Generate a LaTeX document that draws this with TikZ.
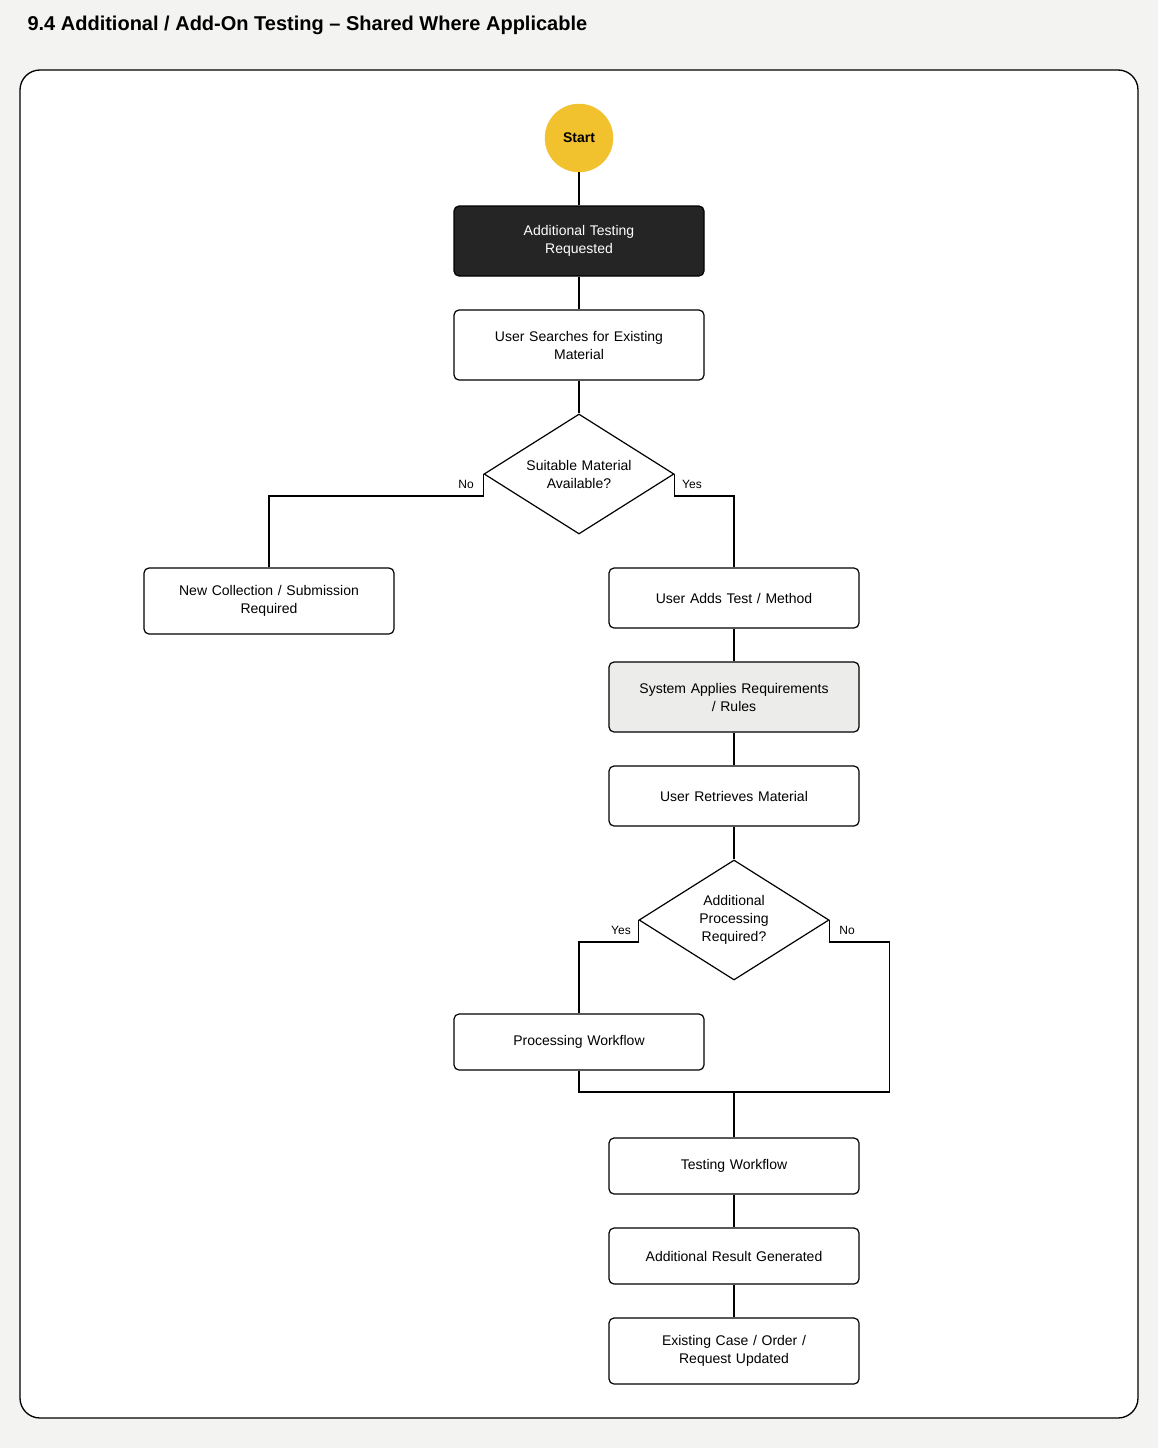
\documentclass[tikz,border=0pt]{standalone}
\usepackage{fontspec}
\setmainfont{Liberation Sans}
\usetikzlibrary{positioning,shapes.geometric}
\definecolor{pagebg}{HTML}{F3F3F2}
\definecolor{darkbox}{HTML}{252525}
\definecolor{rulebox}{HTML}{ECECEB}
\definecolor{startyel}{HTML}{F2C12E}
\tikzset{
  box/.style={draw,rounded corners=5pt,line width=1.2pt,fill=white,minimum width=250pt,text width=220pt,align=center,font=\fontsize{14}{18}\selectfont},
  dec/.style={draw,diamond,line width=1.2pt,fill=white,minimum width=190pt,minimum height=120pt,inner sep=0pt,aspect=1.58,text width=110pt,align=center,font=\fontsize{14}{18}\selectfont},
  lab/.style={font=\fontsize{12}{14}\selectfont},
  link/.style={line width=1.2pt}
}
\begin{document}
\begin{tikzpicture}[x=1pt,y=-1pt]
\fill[pagebg] (0,0) rectangle (1158,1448);
\useasboundingbox (0,0) rectangle (1158,1448);
\node[anchor=west,font=\bfseries\fontsize{20}{24}\selectfont] (title) at (24,25) {9.4 Additional / Add-On Testing -- Shared Where Applicable};
\draw[line width=1.3pt,rounded corners=20pt,fill=white] (20,70) rectangle (1138,1418);
\node[draw,circle,fill=startyel,draw=startyel,minimum size=68pt,font=\bfseries\fontsize{14}{18}\selectfont] (start) at (579,138) {Start};
\node[box,fill=darkbox,text=white,minimum height=70pt] (req) at (579,241) {Additional Testing\\Requested};
\node[box,minimum height=70pt] (search) at (579,345) {User Searches for Existing\\Material};
\node[dec] (avail) at (579,474) {Suitable Material\\Available?};
\node[box,minimum height=66pt] (newc) at (269,601) {New Collection / Submission\\Required};
\node[box,minimum height=60pt] (adds) at (734,598) {User Adds Test / Method};
\node[box,fill=rulebox,minimum height=70pt] (rules) at (734,697) {System Applies Requirements\\/ Rules};
\node[box,minimum height=60pt] (retr) at (734,796) {User Retrieves Material};
\node[dec] (proc) at (734,920) {Additional\\Processing\\Required?};
\node[box,minimum height=56pt] (pwf) at (579,1042) {Processing Workflow};
\coordinate (merge) at (734,1092);
\node[box,minimum height=56pt] (twf) at (734,1166) {Testing Workflow};
\node[box,minimum height=56pt] (res) at (734,1256) {Additional Result Generated};
\node[box,minimum height=66pt] (upd) at (734,1351) {Existing Case / Order /\\Request Updated};
% connectors
\draw[link] (start) -- (req);
\draw[link] (req) -- (search);
\draw[link] (search) -- (avail);
\draw[link] (avail.west) -- ++(0,22) -| (newc.north);
\draw[link] (avail.east) -- ++(0,22) -| (adds.north);
\node[lab] (no1) at (466,484) {No};
\node[lab] (yes1) at (692,484) {Yes};
\draw[link] (adds) -- (rules);
\draw[link] (rules) -- (retr);
\draw[link] (retr) -- (proc);
\draw[link] (proc.west) -- ++(0,22) -| (pwf.north);
\draw[link] (proc.east) -- ++(0,22) -- ++(60,0) |- (merge);
\node[lab] (yes2) at (621,930) {Yes};
\node[lab] (no2) at (847,930) {No};
\draw[link] (pwf.south) |- (merge);
\draw[link] (merge) -- (twf);
\draw[link] (twf) -- (res);
\draw[link] (res) -- (upd);
\end{tikzpicture}
\end{document}
